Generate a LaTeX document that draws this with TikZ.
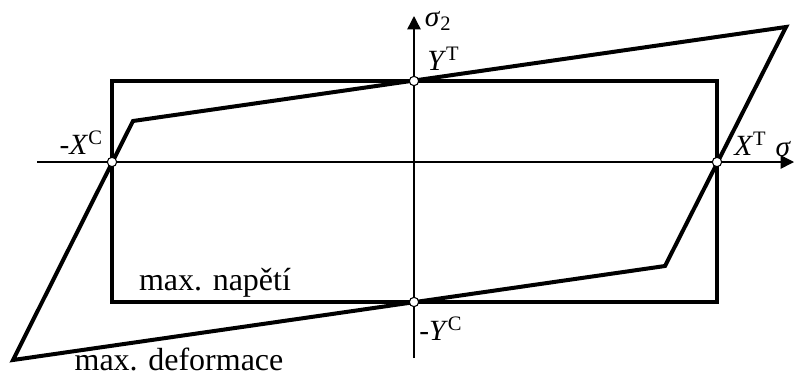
\documentclass[tikz,border=0pt]{standalone}
\usepackage{fontspec}
\setmainfont{Liberation Serif}
\usetikzlibrary{arrows.meta, positioning}

\begin{document}
\begin{tikzpicture}[x=0.75pt, y=-0.75pt,
      axis/.style={-{Triangle[length=10pt, width=10pt]}, line width=1.1pt},
      bound/.style={line width=3pt, line join=miter},
      pt/.style={circle, draw, fill=white, line width=0.8pt, inner sep=0pt, minimum size=7pt},
      lbl/.style={font=\fontsize{22}{26}\selectfont, inner sep=1pt},
      note/.style={font=\fontsize{24}{28}\selectfont, inner sep=0pt}]

    \useasboundingbox (0,0) rectangle (795,376);

    % axes
    \coordinate (axl) at (37,162);
    \coordinate (axr) at (794,162);
    \coordinate (ayb) at (414,358);
    \coordinate (ayt) at (414,16);
    \draw[axis] (axl) -- (axr);
    \draw[axis] (ayb) -- (ayt);

    % max. napeti
    \coordinate (rbl) at (112,302);
    \coordinate (rtr) at (717,81);
    \draw[bound] (rbl) rectangle (rtr);

    % max. deformace
    \coordinate (d1) at (786,27);
    \coordinate (d2) at (133,121);
    \coordinate (d3) at (13,360);
    \coordinate (d4) at (665,266);
    \draw[bound] (d1) -- (d2) -- (d3) -- (d4) -- cycle;

    % strengths
    \node[pt] (xc) at (112,162) {};
    \node[pt] (xt) at (717,162) {};
    \node[pt] (yt) at (414,81) {};
    \node[pt] (yc) at (414,302) {};

    \node[lbl, above left=2pt and 3pt of xc] (xcl) {-\textit{X}\textsuperscript{C}};
    \node[lbl, above right=1pt and 9pt of xt] (xtl) {\textit{X}\textsuperscript{T}};
    \node[lbl, above right=4pt and 6pt of yt] (ytl) {\textit{Y}\textsuperscript{T}};
    \node[lbl, below right=7pt and 0pt of yc] (ycl) {-\textit{Y}\textsuperscript{C}};
    \node[lbl, above left=3pt and 1pt of axr] (s1) {\textit{σ}};
    \node[lbl, right=7pt of ayt, yshift=-4pt] (s2) {\textit{σ}\textsubscript{2}};

    \node[note] (nap) at (215,283) {max. napětí};
    \node[note] (def) at (179,359) {max. deformace};
  \end{tikzpicture}
\end{document}
